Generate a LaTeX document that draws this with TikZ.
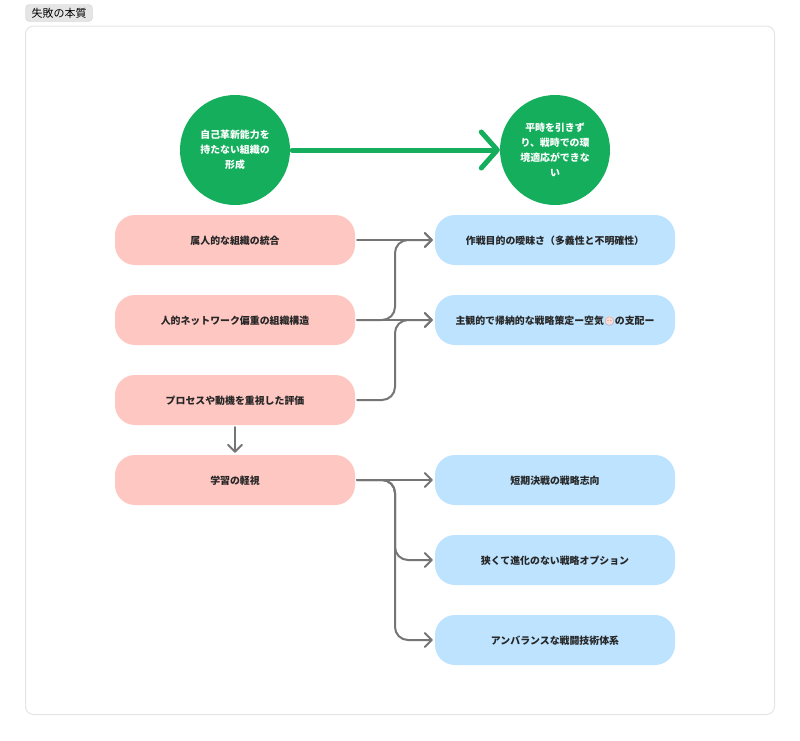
\documentclass[tikz,border=0pt]{standalone}
\usepackage{fontspec}
\usetikzlibrary{arrows.meta}
\setmainfont{Noto Sans CJK JP}
\newfontfamily\emojifont{Noto Emoji}
\definecolor{circlegreen}{HTML}{14AE5C}
\definecolor{causepink}{HTML}{FFC7C2}
\definecolor{effectblue}{HTML}{BDE3FF}
\definecolor{linkgray}{HTML}{757575}
\definecolor{labeltext}{HTML}{262626}
\definecolor{emojitint}{HTML}{C07F74}
\definecolor{emojidisc}{HTML}{F7DDD3}
\newcommand{\airface}{\makebox[1.1em][c]{\mdseries\makebox[0pt][c]{\tikz[baseline=-3.6pt]\fill[emojidisc] (0,0) circle (4.3pt);}\makebox[0pt][c]{\emojifont\fontsize{8.5}{8.5}\selectfont\textcolor{emojitint}{😶}}}}
\tikzset{
  circlenode/.style={circle, fill=circlegreen, minimum size=110pt, inner sep=0pt, text=white, align=center, font=\fontsize{9.9}{15}\selectfont\bfseries},
  boxnode/.style={rounded corners=20pt, minimum width=240pt, minimum height=50pt, inner sep=0pt, text=labeltext, text height=9pt, text depth=1pt, align=center, font=\fontsize{9.9}{12}\selectfont\bfseries},
  causebox/.style={boxnode, fill=causepink},
  effectbox/.style={boxnode, fill=effectblue},
  link/.style={draw=linkgray, line width=2pt, line cap=round, rounded corners=13pt, -{Straight Barb[length=7pt,width=14pt,line width=2pt,round]}},
  biglink/.style={draw=circlegreen, line width=5pt, line cap=round, -{Straight Barb[length=16pt,width=36pt,line width=5pt,round]}}
}
\begin{document}
\begin{tikzpicture}[x=1pt,y=-1pt]
\useasboundingbox (0,0) rectangle (800,740);

% frame and tag
\draw[draw=black!10, fill=white, line width=1pt, rounded corners=8pt] (25.5,26) rectangle (774.5,714.5);
\node[draw=black!20, fill=black!10, rounded corners=4pt, minimum width=67pt, minimum height=17pt, inner sep=0pt, font=\fontsize{11}{13}\selectfont] (tag) at (59,13) {失敗の本質};

% circles
\node[circlenode] (self) at (235,150) {自己革新能力を\\持たない組織の\\形成};
\node[circlenode] (peace) at (555,150) {平時を引きず\\り、戦時での環\\境適応ができな\\い};

% causes
\node[causebox] (personal) at (235,240) {属人的な組織の統合};
\node[causebox] (network) at (235,320) {人的ネットワーク偏重の組織構造};
\node[causebox] (process) at (235,400) {プロセスや動機を重視した評価};
\node[causebox] (learning) at (235,480) {学習の軽視};

% effects
\node[effectbox] (aim) at (555,240) {作戦目的の曖昧さ（多義性と不明確性）};
\node[effectbox] (air) at (555,320) {主観的で帰納的な戦略策定ー空気\airface の支配ー};
\node[effectbox] (short) at (555,480) {短期決戦の戦略志向};
\node[effectbox] (narrow) at (555,560) {狭くて進化のない戦略オプション};
\node[effectbox] (unbal) at (555,640) {アンバランスな戦闘技術体系};

% links
\draw[biglink] (self.east) ++(2,0) -- (peace.west);
\draw[link] (personal.east) ++(2,0) -- ([xshift=-2pt]aim.west);
\draw[link] (network.east) ++(2,0) -| (395,240) -- ([xshift=-2pt]aim.west);
\draw[link] (network.east) ++(2,0) -- ([xshift=-2pt]air.west);
\draw[link] (process.east) ++(2,0) -| (395,320) -- ([xshift=-2pt]air.west);
\draw[link] ([yshift=-2pt]process.south) -- ([yshift=2pt]learning.north);
\draw[link] (learning.east) ++(2,0) -- ([xshift=-2pt]short.west);
\draw[link] (learning.east) ++(2,0) -| (395,560) -- ([xshift=-2pt]narrow.west);
\draw[link] (learning.east) ++(2,0) -| (395,640) -- ([xshift=-2pt]unbal.west);
\end{tikzpicture}
\end{document}
